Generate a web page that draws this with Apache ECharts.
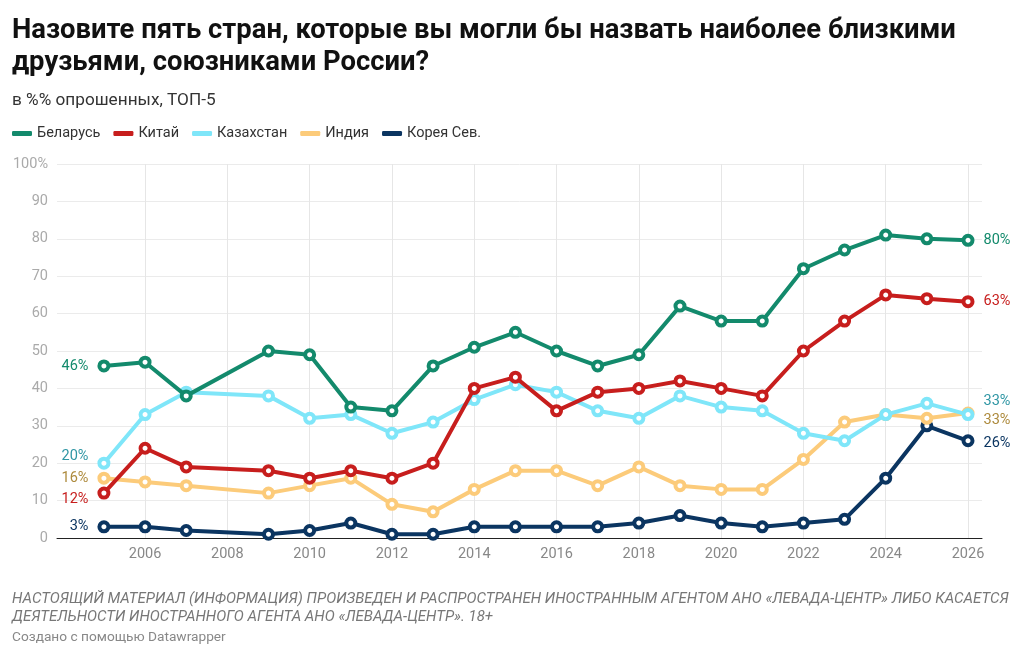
<!DOCTYPE html>
<html>
<head>
<meta charset="utf-8">
<script src="https://cdn.jsdelivr.net/npm/echarts@6/dist/echarts.min.js"></script>
<style>
html,body{margin:0;padding:0;background:#fff;}
#chart{width:1024px;height:658px;}
</style>
</head>
<body>
<div id="chart"></div>
<script>
const years = [2005,2006,2007,2009,2010,2011,2012,2013,2014,2015,2016,2017,2018,2019,2020,2021,2022,2023,2024,2025,2026];
const belarus    = [46,47,38,50,49,35,34,46,51,55,50,46,49,62,58,58,72,77,81,80,79.6];
const china      = [12,24,19,18,16,18,16,20,40,43,34,39,40,42,40,38,50,58,65,64,63.2];
const kazakhstan = [20,33,39,38,32,33,28,31,37,41,39,34,32,38,35,34,28,26,33,36,33];
const india      = [16,15,14,12,14,16,9,7,13,18,18,14,19,14,13,13,21,31,33,32,33.4];
const korea      = [3,3,2,1,2,4,1,1,3,3,3,3,4,6,4,3,4,5,16,30,26];
const xTicks = [2006,2008,2010,2012,2014,2016,2018,2020,2022,2024,2026];
const names = ['Беларусь','Китай','Казахстан','Индия','Корея Сев.'];

const colors = ['#138a6c','#c71e1d','#7fe6f9','#fccb7a','#0b3561'];
const labelColors = ['#138a6c','#c71e1d','#2f96a4','#ad8a3c','#0b3561'];
const firstOffsets = [[0,0],[0,6],[0,-7],[0,0],[0,0]];
const lastOffsets  = [[0,0],[0,0],[0,-13],[0,7],[0,3]];
const allData = [belarus, china, kazakhstan, india, korea];

const series = allData.map((vals, i) => ({
  name: names[i],
  type: 'line',
  data: vals.map((v, j) => {
    const item = { value: [years[j], v] };
    if (j === 0 || j === vals.length - 1) {
      const first = j === 0;
      item.label = {
        show: true,
        position: first ? 'left' : 'right',
        distance: 9,
        offset: first ? firstOffsets[i] : lastOffsets[i],
        formatter: Math.round(v) + '%',
        color: labelColors[i],
        fontSize: 14.5,
        fontFamily: 'Roboto'
      };
    }
    return item;
  }),
  symbol: 'circle',
  symbolSize: 9,
  showAllSymbol: true,
  lineStyle: { width: 4, color: colors[i] },
  itemStyle: { color: '#fff', borderColor: colors[i], borderWidth: 4 },
  z: 10 - i,
  emphasis: { disabled: true },
  animation: false
}));

const chart = echarts.init(document.getElementById('chart'));
chart.setOption({
  animation: false,
  color: colors,
  textStyle: { fontFamily: 'Roboto' },
  title: [
    { text: 'Назовите пять стран, которые вы могли бы назвать наиболее близкими\nдрузьями, союзниками России?',
      left: 12, top: 15, padding: 0,
      textStyle: { fontSize: 27.4, fontWeight: 'bold', color: '#111', lineHeight: 32, fontFamily: 'Roboto' } },
    { text: 'в %% опрошенных, ТОП-5', left: 12, top: 92, padding: 0,
      textStyle: { fontSize: 17.2, fontWeight: 'normal', color: '#333', lineHeight: 18, fontFamily: 'Roboto' } },
    { text: 'НАСТОЯЩИЙ МАТЕРИАЛ (ИНФОРМАЦИЯ) ПРОИЗВЕДЕН И РАСПРОСТРАНЕН ИНОСТРАННЫМ АГЕНТОМ АНО «ЛЕВАДА-ЦЕНТР» ЛИБО КАСАЕТСЯ\nДЕЯТЕЛЬНОСТИ ИНОСТРАННОГО АГЕНТА АНО «ЛЕВАДА-ЦЕНТР». 18+',
      left: 12, top: 590, padding: 0,
      textStyle: { fontSize: 15, fontStyle: 'italic', fontWeight: 'normal', color: '#777', lineHeight: 18, fontFamily: 'Roboto' } },
    { text: 'Создано с помощью Datawrapper', left: 12, top: 630, padding: 0,
      textStyle: { fontSize: 13.7, fontWeight: 'normal', color: '#888', lineHeight: 16, fontFamily: 'Roboto' } }
  ],
  legend: {
    left: 12, top: 126, padding: 0,
    icon: 'roundRect',
    itemWidth: 20, itemHeight: 5,
    itemGap: 13,
    textStyle: { fontSize: 14.5, color: '#333', fontFamily: 'Roboto' },
    data: names.map((n, i) => ({ name: n, itemStyle: { color: colors[i], borderWidth: 0 } }))
  },
  grid: { left: 57, right: 42, top: 164, bottom: 120, containLabel: false },
  xAxis: {
    type: 'value',
    min: 2003.86, max: 2026.34,
    axisLine: { show: true, onZero: true, lineStyle: { color: '#222', width: 1 } },
    axisTick: { show: false, customValues: xTicks },
    axisLabel: { customValues: xTicks, color: '#888', fontSize: 14.5, margin: 9, formatter: v => String(v) },
    splitLine: { show: true, lineStyle: { color: '#e6e6e6', width: 1 } }
  },
  yAxis: {
    type: 'value',
    min: 0, max: 100, interval: 10,
    axisLine: { show: false },
    axisTick: { show: false },
    axisLabel: { color: '#aaa', fontSize: 14.5, margin: 9, formatter: v => v === 100 ? '100%' : String(v) },
    splitLine: { lineStyle: { color: '#ebebeb', width: 1 } }
  },
  series: series
});
</script>
</body>
</html>
